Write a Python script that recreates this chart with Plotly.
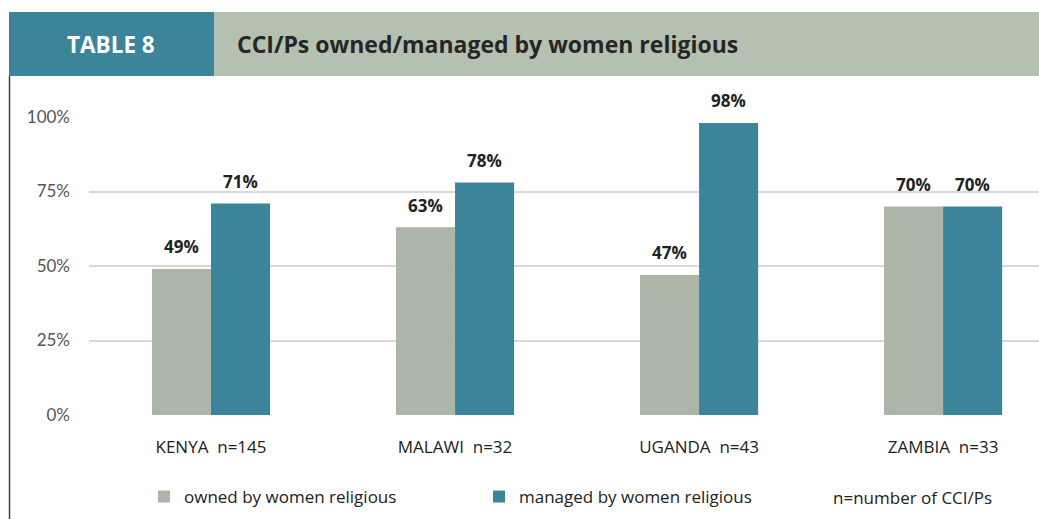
import plotly.graph_objects as go

countries = ["KENYA\u00a0 n=145", "MALAWI\u00a0 n=32", "UGANDA\u00a0 n=43", "ZAMBIA\u00a0 n=33"]
owned = [49, 63, 47, 70]
managed = [71, 78, 98, 70]
y_ticks = [0, 25, 50, 75, 100]
y_tick_text = ["0%", "25%", "50%", "75%", "100%"]

TEAL = "#3c8499"
GREY = "#abb6a9"
HEADER_GREEN = "#b4c0b0"
FONT = "Open Sans"

W, H = 1039, 519
ML, MT = 89, 117
MR = 0
MB = H - 415
PW, PH = W - ML - MR, H - MT - MB


def px_x(x):
    return (x - ML) / PW


def px_y(y):
    return 1 - (y - MT) / PH


fig = go.Figure()
fig.add_trace(go.Bar(x=countries, y=owned, name="owned by women religious",
                     marker=dict(color=GREY, line=dict(width=0))))
fig.add_trace(go.Bar(x=countries, y=managed, name="managed by women religious",
                     marker=dict(color=TEAL, line=dict(width=0))))

# value labels above bars
bar_half = 0.242 * (PW / 3.893) / 2
annotations = []
for i, c in enumerate(countries):
    for vals, sh in ((owned, -bar_half), (managed, bar_half)):
        annotations.append(dict(x=c, y=vals[i], xref="x", yref="y", text=f"{vals[i]}%",
                                showarrow=False, xshift=sh, yshift=22, yanchor="middle",
                                font=dict(family=FONT, size=17, color="#222222", weight="bold")))

# header texts
annotations.append(dict(x=px_x(111), y=px_y(44), xref="paper", yref="paper", text="<b>TABLE 8</b>",
                        showarrow=False, xanchor="center", yanchor="middle",
                        font=dict(family=FONT, size=22.5, color="white")))
annotations.append(dict(x=px_x(235), y=px_y(44), xref="paper", yref="paper",
                        text="<b>CCI/Ps owned/managed by women religious</b>",
                        showarrow=False, xanchor="left", yanchor="middle",
                        font=dict(family=FONT, size=23, color="#262626")))
annotations.append(dict(x=px_x(831), y=px_y(497), xref="paper", yref="paper",
                        text="n=number of CCI/Ps", showarrow=False, xanchor="left", yanchor="middle",
                        font=dict(family=FONT, size=17, color="#222222")))

shapes = [
    dict(type="rect", xref="paper", yref="paper", x0=px_x(9), x1=px_x(1040), y0=px_y(76), y1=px_y(12),
         fillcolor=HEADER_GREEN, line=dict(width=0), layer="below"),
    dict(type="rect", xref="paper", yref="paper", x0=px_x(9), x1=px_x(214), y0=px_y(76), y1=px_y(12),
         fillcolor=TEAL, line=dict(width=0), layer="below"),
    dict(type="line", xref="paper", yref="paper", x0=px_x(9.5), x1=px_x(9.5), y0=px_y(76), y1=px_y(520),
         line=dict(color="#444444", width=1.5)),
]

fig.update_layout(
    width=W, height=H,
    margin=dict(l=ML, r=MR, t=MT, b=MB, pad=0),
    paper_bgcolor="white", plot_bgcolor="white",
    barmode="group", bargap=0.516, bargroupgap=0,
    font=dict(family=FONT, color="#222222"),
    annotations=annotations, shapes=shapes,
    showlegend=True,
    legend=dict(orientation="h", x=px_x(144), y=px_y(497), xanchor="left", yanchor="middle",
                entrywidth=290, entrywidthmode="pixels",
                font=dict(family=FONT, size=17, color="#222222"), bgcolor="rgba(0,0,0,0)"),
)
fig.update_xaxes(range=[-0.5, 3.393], showline=False, showgrid=False, zeroline=False, ticks="",
                 ticklabelstandoff=20, tickfont=dict(family=FONT, size=17, color="#222222"))
fig.update_yaxes(range=[0, 100], tickvals=y_ticks, ticktext=y_tick_text, showline=False,
                 gridcolor="#d9d9d9", gridwidth=1.5, zeroline=False, ticks="",
                 ticklabelstandoff=18, tickfont=dict(family="Lato", size=17, color="#555555"))

fig.write_html("out.html", config={"displayModeBar": False},
               post_script="document.documentElement.style.overflow='hidden';"
                           "document.body.style.margin='0';document.body.style.overflow='hidden';")
